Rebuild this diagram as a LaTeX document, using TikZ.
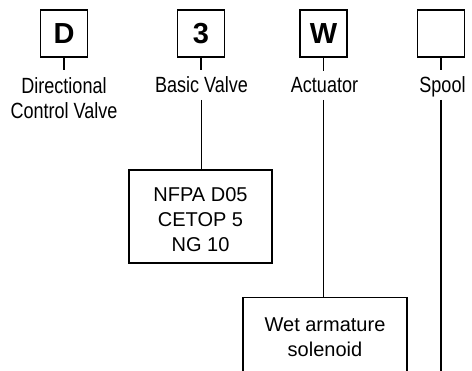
\documentclass[tikz,border=0pt]{standalone}
\usepackage{fontspec}
\setmainfont{Liberation Sans}
\newfontfamily\narrowfont[FakeStretch=0.82]{Liberation Sans}
\usetikzlibrary{calc}
\tikzset{
  x=1pt,y=1pt,
  conn/.style={draw,line width=1.4pt},
  codebox/.style={draw,line width=1.4pt,minimum width=47pt,minimum height=47pt,inner sep=0pt,
     font=\fontsize{29}{29}\selectfont\bfseries},
  lab/.style={anchor=base,inner xsep=0pt,inner ysep=7pt,align=center,
     font=\narrowfont\fontsize{22}{25}\selectfont},
  infobox/.style={draw,line width=1.4pt,inner sep=0pt},
  infotext/.style={anchor=base,inner sep=0pt,align=center,
     font=\fontsize{20}{25}\selectfont},
}
\begin{document}
\begin{tikzpicture}
\useasboundingbox (0,0) rectangle (472,-371);
\clip (0,0) rectangle (472,-371);
\fill[white] (0,0) rectangle (472,-371);
% top code boxes
\node[codebox] (boxD) at (64,-33.7) {D};
\node[codebox] (boxB) at (201,-33.7) {3};
\node[codebox] (boxW) at (323.5,-33.7) {W};
\node[codebox] (boxS) at (441,-33.7) {};
% labels (base = baseline of last line)
\node[lab] (labD) at (64,-118.5) {Directional\\Control Valve};
\node[lab] (labB) at (201.5,-93) {Basic Valve};
\node[lab] (labW) at (324.5,-93) {Actuator};
\node[lab] (labS) at (442.5,-93) {Spool};
% stems
\draw[conn] (boxD.south) -- (boxD.south |- labD.north);
\draw[conn] (boxB.south) -- (boxB.south |- labB.north);
\draw[conn] (boxW.south) -- (boxW.south |- labW.north);
\draw[conn] (boxS.south) -- (boxS.south |- labS.north);
% NFPA box
\node[infobox,minimum width=143pt,minimum height=93pt] (nfpa) at (200.5,-216.5) {};
\node[infotext] (nfpaT) at (200.5,-252) {NFPA D05\\CETOP 5\\NG 10};
% Wet armature box (runs off the bottom)
\node[infobox,minimum width=164pt,minimum height=120pt,anchor=north] (wet) at (325,-297) {};
\node[infotext] (wetT) at (325,-357) {Wet armature\\solenoid};
% lower connectors
\draw[conn] ($(labB.base)+(0,-7)$) -- (labB.base |- nfpa.north);
\draw[conn] ($(boxW.south |- labW.base)+(0,-7)$) -- (boxW.south |- wet.north);
\coordinate (spoolEnd) at (441,-380);
\draw[conn] ($(boxS.south |- labS.base)+(0,-7)$) -- (boxS.south |- spoolEnd);
\end{tikzpicture}
\end{document}
